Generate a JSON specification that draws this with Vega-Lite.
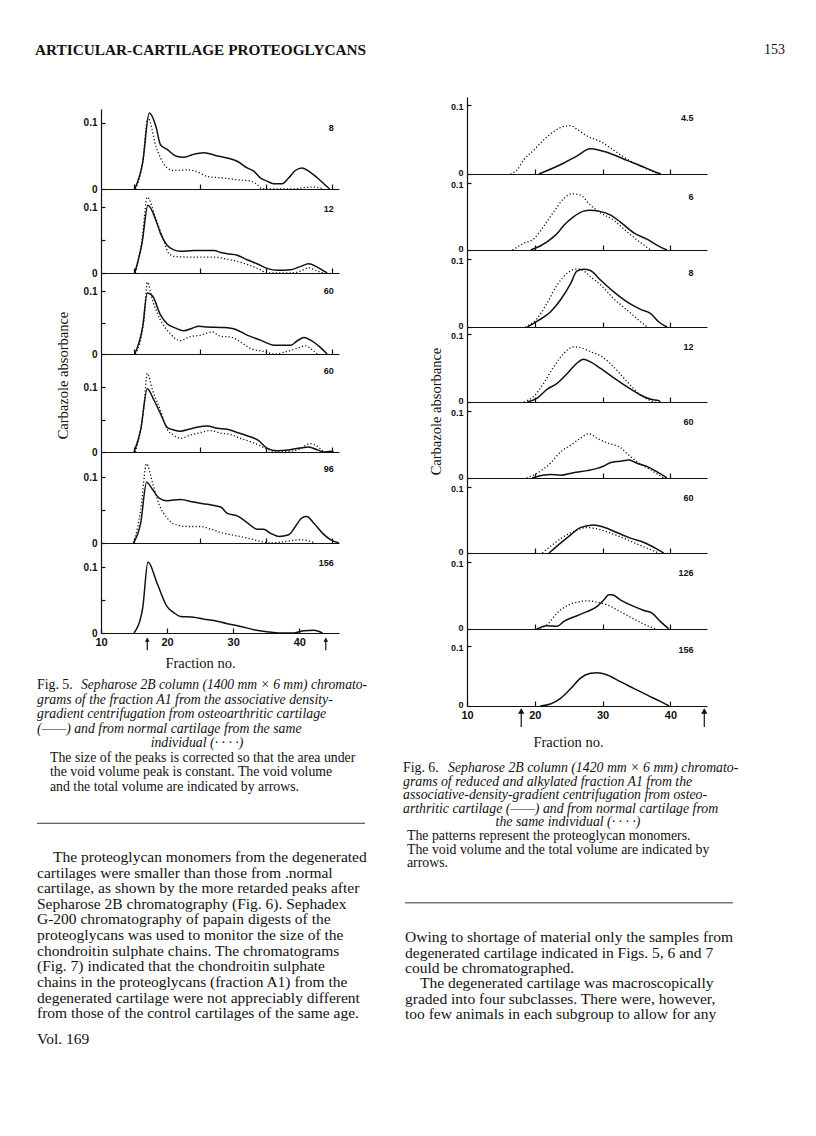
{
  "$schema": "https://vega.github.io/schema/vega-lite/v6.json",
  "background": "white",
  "padding": {"left": 35, "top": 30, "right": 0, "bottom": 0},
  "autosize": {"type": "pad"},
  "config": {
    "view": {"stroke": null},
    "font": "Liberation Serif",
    "axis": {"grid": false, "domainColor": "#111", "tickColor": "#111", "labelColor": "#111", "labelFont": "Liberation Sans", "labelFontWeight": "bold", "labelFontSize": 10, "domainWidth": 1.2, "tickWidth": 1.2, "labelOverlap": false, "labelFlush": false, "labelBound": false, "titleFont": "Liberation Serif", "titleFontWeight": "normal", "titleFontSize": 14.5, "titleColor": "#111"},
    "text": {"font": "Liberation Serif", "color": "#111"},
    "concat": {"spacing": 0}
  },
  "datasets": {
    "curves": [
      {"fig":5,"panel":1,"series":"OA","fraction":15.1,"absorbance":0},{"fig":5,"panel":1,"series":"OA","fraction":16.3,"absorbance":0.04},{"fig":5,"panel":1,"series":"OA","fraction":17.3,"absorbance":0.115},{"fig":5,"panel":1,"series":"OA","fraction":18.3,"absorbance":0.095},{"fig":5,"panel":1,"series":"OA","fraction":19,"absorbance":0.067},{"fig":5,"panel":1,"series":"OA","fraction":20,"absorbance":0.06},{"fig":5,"panel":1,"series":"OA","fraction":21.3,"absorbance":0.05},{"fig":5,"panel":1,"series":"OA","fraction":22.5,"absorbance":0.048},{"fig":5,"panel":1,"series":"OA","fraction":23.8,"absorbance":0.052},{"fig":5,"panel":1,"series":"OA","fraction":25.6,"absorbance":0.055},{"fig":5,"panel":1,"series":"OA","fraction":27.6,"absorbance":0.05},{"fig":5,"panel":1,"series":"OA","fraction":29.1,"absorbance":0.047},{"fig":5,"panel":1,"series":"OA","fraction":30.6,"absorbance":0.042},{"fig":5,"panel":1,"series":"OA","fraction":32.1,"absorbance":0.032},{"fig":5,"panel":1,"series":"OA","fraction":33.1,"absorbance":0.027},{"fig":5,"panel":1,"series":"OA","fraction":34.1,"absorbance":0.017},{"fig":5,"panel":1,"series":"OA","fraction":35.1,"absorbance":0.012},{"fig":5,"panel":1,"series":"OA","fraction":36.1,"absorbance":0.008},{"fig":5,"panel":1,"series":"OA","fraction":37.4,"absorbance":0.008},{"fig":5,"panel":1,"series":"OA","fraction":38.4,"absorbance":0.017},{"fig":5,"panel":1,"series":"OA","fraction":39.4,"absorbance":0.028},{"fig":5,"panel":1,"series":"OA","fraction":40.4,"absorbance":0.032},{"fig":5,"panel":1,"series":"OA","fraction":41.4,"absorbance":0.027},{"fig":5,"panel":1,"series":"OA","fraction":42.7,"absorbance":0.017},{"fig":5,"panel":1,"series":"OA","fraction":43.7,"absorbance":0.008},{"fig":5,"panel":1,"series":"OA","fraction":44.6,"absorbance":0},
      {"fig":5,"panel":1,"series":"normal","fraction":15.2,"absorbance":0},{"fig":5,"panel":1,"series":"normal","fraction":16.3,"absorbance":0.04},{"fig":5,"panel":1,"series":"normal","fraction":17.1,"absorbance":0.108},{"fig":5,"panel":1,"series":"normal","fraction":18.3,"absorbance":0.065},{"fig":5,"panel":1,"series":"normal","fraction":19,"absorbance":0.047},{"fig":5,"panel":1,"series":"normal","fraction":20,"absorbance":0.032},{"fig":5,"panel":1,"series":"normal","fraction":21,"absorbance":0.028},{"fig":5,"panel":1,"series":"normal","fraction":23,"absorbance":0.029},{"fig":5,"panel":1,"series":"normal","fraction":24.3,"absorbance":0.027},{"fig":5,"panel":1,"series":"normal","fraction":26.1,"absorbance":0.019},{"fig":5,"panel":1,"series":"normal","fraction":28.1,"absorbance":0.017},{"fig":5,"panel":1,"series":"normal","fraction":30.6,"absorbance":0.014},{"fig":5,"panel":1,"series":"normal","fraction":32.6,"absorbance":0.012},{"fig":5,"panel":1,"series":"normal","fraction":33.6,"absorbance":0.007},{"fig":5,"panel":1,"series":"normal","fraction":34.4,"absorbance":0},{"fig":5,"panel":1,"series":"normal","fraction":39.2,"absorbance":0},{"fig":5,"panel":1,"series":"normal","fraction":40.7,"absorbance":0.002},{"fig":5,"panel":1,"series":"normal","fraction":42.2,"absorbance":0.003},{"fig":5,"panel":1,"series":"normal","fraction":43.7,"absorbance":0},
      {"fig":5,"panel":2,"series":"OA","fraction":15.1,"absorbance":0},{"fig":5,"panel":2,"series":"OA","fraction":16.2,"absorbance":0.045},{"fig":5,"panel":2,"series":"OA","fraction":17.1,"absorbance":0.1025},{"fig":5,"panel":2,"series":"OA","fraction":18.3,"absorbance":0.08},{"fig":5,"panel":2,"series":"OA","fraction":19,"absorbance":0.06},{"fig":5,"panel":2,"series":"OA","fraction":20,"absorbance":0.042},{"fig":5,"panel":2,"series":"OA","fraction":21,"absorbance":0.035},{"fig":5,"panel":2,"series":"OA","fraction":22,"absorbance":0.033},{"fig":5,"panel":2,"series":"OA","fraction":24,"absorbance":0.034},{"fig":5,"panel":2,"series":"OA","fraction":27.1,"absorbance":0.034},{"fig":5,"panel":2,"series":"OA","fraction":28.1,"absorbance":0.031},{"fig":5,"panel":2,"series":"OA","fraction":29.1,"absorbance":0.029},{"fig":5,"panel":2,"series":"OA","fraction":30.6,"absorbance":0.027},{"fig":5,"panel":2,"series":"OA","fraction":32.1,"absorbance":0.02},{"fig":5,"panel":2,"series":"OA","fraction":33.6,"absorbance":0.014},{"fig":5,"panel":2,"series":"OA","fraction":35.1,"absorbance":0.007},{"fig":5,"panel":2,"series":"OA","fraction":36.7,"absorbance":0.004},{"fig":5,"panel":2,"series":"OA","fraction":38.7,"absorbance":0.005},{"fig":5,"panel":2,"series":"OA","fraction":40.2,"absorbance":0.01},{"fig":5,"panel":2,"series":"OA","fraction":41.4,"absorbance":0.014},{"fig":5,"panel":2,"series":"OA","fraction":42.7,"absorbance":0.009},{"fig":5,"panel":2,"series":"OA","fraction":44.2,"absorbance":0},
      {"fig":5,"panel":2,"series":"normal","fraction":15.2,"absorbance":0},{"fig":5,"panel":2,"series":"normal","fraction":16.2,"absorbance":0.05},{"fig":5,"panel":2,"series":"normal","fraction":17,"absorbance":0.115},{"fig":5,"panel":2,"series":"normal","fraction":18.3,"absorbance":0.082},{"fig":5,"panel":2,"series":"normal","fraction":19.3,"absorbance":0.055},{"fig":5,"panel":2,"series":"normal","fraction":20.3,"absorbance":0.029},{"fig":5,"panel":2,"series":"normal","fraction":21.3,"absorbance":0.025},{"fig":5,"panel":2,"series":"normal","fraction":24,"absorbance":0.024},{"fig":5,"panel":2,"series":"normal","fraction":27.1,"absorbance":0.024},{"fig":5,"panel":2,"series":"normal","fraction":29.1,"absorbance":0.021},{"fig":5,"panel":2,"series":"normal","fraction":30.1,"absorbance":0.019},{"fig":5,"panel":2,"series":"normal","fraction":32.1,"absorbance":0.013},{"fig":5,"panel":2,"series":"normal","fraction":34.1,"absorbance":0.005},{"fig":5,"panel":2,"series":"normal","fraction":35.1,"absorbance":0},{"fig":5,"panel":2,"series":"normal","fraction":38.7,"absorbance":0},{"fig":5,"panel":2,"series":"normal","fraction":40.2,"absorbance":0.003},{"fig":5,"panel":2,"series":"normal","fraction":41.4,"absorbance":0.008},{"fig":5,"panel":2,"series":"normal","fraction":42.7,"absorbance":0.003},{"fig":5,"panel":2,"series":"normal","fraction":43.7,"absorbance":0},
      {"fig":5,"panel":3,"series":"OA","fraction":15.1,"absorbance":0},{"fig":5,"panel":3,"series":"OA","fraction":16.3,"absorbance":0.043},{"fig":5,"panel":3,"series":"OA","fraction":17,"absorbance":0.097},{"fig":5,"panel":3,"series":"OA","fraction":17.8,"absorbance":0.092},{"fig":5,"panel":3,"series":"OA","fraction":19,"absorbance":0.062},{"fig":5,"panel":3,"series":"OA","fraction":20,"absorbance":0.048},{"fig":5,"panel":3,"series":"OA","fraction":21.3,"absorbance":0.041},{"fig":5,"panel":3,"series":"OA","fraction":22.5,"absorbance":0.037},{"fig":5,"panel":3,"series":"OA","fraction":23.8,"absorbance":0.041},{"fig":5,"panel":3,"series":"OA","fraction":24.8,"absorbance":0.044},{"fig":5,"panel":3,"series":"OA","fraction":26.1,"absorbance":0.043},{"fig":5,"panel":3,"series":"OA","fraction":28.6,"absorbance":0.042},{"fig":5,"panel":3,"series":"OA","fraction":30.4,"absorbance":0.039},{"fig":5,"panel":3,"series":"OA","fraction":32.1,"absorbance":0.03},{"fig":5,"panel":3,"series":"OA","fraction":34.1,"absorbance":0.022},{"fig":5,"panel":3,"series":"OA","fraction":36.2,"absorbance":0.014},{"fig":5,"panel":3,"series":"OA","fraction":38.7,"absorbance":0.014},{"fig":5,"panel":3,"series":"OA","fraction":39.7,"absorbance":0.021},{"fig":5,"panel":3,"series":"OA","fraction":40.7,"absorbance":0.026},{"fig":5,"panel":3,"series":"OA","fraction":41.7,"absorbance":0.022},{"fig":5,"panel":3,"series":"OA","fraction":43,"absorbance":0.012},{"fig":5,"panel":3,"series":"OA","fraction":44.2,"absorbance":0},
      {"fig":5,"panel":3,"series":"normal","fraction":15.2,"absorbance":0},{"fig":5,"panel":3,"series":"normal","fraction":16.5,"absorbance":0.054},{"fig":5,"panel":3,"series":"normal","fraction":17,"absorbance":0.114},{"fig":5,"panel":3,"series":"normal","fraction":17.8,"absorbance":0.085},{"fig":5,"panel":3,"series":"normal","fraction":19,"absorbance":0.054},{"fig":5,"panel":3,"series":"normal","fraction":20.5,"absorbance":0.032},{"fig":5,"panel":3,"series":"normal","fraction":22,"absorbance":0.021},{"fig":5,"panel":3,"series":"normal","fraction":23.3,"absorbance":0.027},{"fig":5,"panel":3,"series":"normal","fraction":25.1,"absorbance":0.03},{"fig":5,"panel":3,"series":"normal","fraction":26.8,"absorbance":0.035},{"fig":5,"panel":3,"series":"normal","fraction":28.1,"absorbance":0.028},{"fig":5,"panel":3,"series":"normal","fraction":29.6,"absorbance":0.027},{"fig":5,"panel":3,"series":"normal","fraction":31.1,"absorbance":0.019},{"fig":5,"panel":3,"series":"normal","fraction":32.6,"absorbance":0.009},{"fig":5,"panel":3,"series":"normal","fraction":34.6,"absorbance":0.004},{"fig":5,"panel":3,"series":"normal","fraction":36.3,"absorbance":0},{"fig":5,"panel":3,"series":"normal","fraction":38.1,"absorbance":0.004},{"fig":5,"panel":3,"series":"normal","fraction":39.7,"absorbance":0.009},{"fig":5,"panel":3,"series":"normal","fraction":40.9,"absorbance":0.013},{"fig":5,"panel":3,"series":"normal","fraction":41.9,"absorbance":0.007},{"fig":5,"panel":3,"series":"normal","fraction":42.7,"absorbance":0},
      {"fig":5,"panel":4,"series":"OA","fraction":15,"absorbance":0},{"fig":5,"panel":4,"series":"OA","fraction":16,"absorbance":0.034},{"fig":5,"panel":4,"series":"OA","fraction":17,"absorbance":0.0975},{"fig":5,"panel":4,"series":"OA","fraction":18,"absorbance":0.08},{"fig":5,"panel":4,"series":"OA","fraction":19,"absorbance":0.059},{"fig":5,"panel":4,"series":"OA","fraction":20,"absorbance":0.038},{"fig":5,"panel":4,"series":"OA","fraction":21,"absorbance":0.034},{"fig":5,"panel":4,"series":"OA","fraction":22,"absorbance":0.032},{"fig":5,"panel":4,"series":"OA","fraction":23.3,"absorbance":0.035},{"fig":5,"panel":4,"series":"OA","fraction":24.5,"absorbance":0.038},{"fig":5,"panel":4,"series":"OA","fraction":26.1,"absorbance":0.04},{"fig":5,"panel":4,"series":"OA","fraction":27.6,"absorbance":0.0365},{"fig":5,"panel":4,"series":"OA","fraction":29.1,"absorbance":0.035},{"fig":5,"panel":4,"series":"OA","fraction":30.6,"absorbance":0.03},{"fig":5,"panel":4,"series":"OA","fraction":32.1,"absorbance":0.025},{"fig":5,"panel":4,"series":"OA","fraction":33.8,"absorbance":0.018},{"fig":5,"panel":4,"series":"OA","fraction":35.1,"absorbance":0.006},{"fig":5,"panel":4,"series":"OA","fraction":36.6,"absorbance":0.002},{"fig":5,"panel":4,"series":"OA","fraction":38.6,"absorbance":0.0035},{"fig":5,"panel":4,"series":"OA","fraction":40.1,"absorbance":0.006},{"fig":5,"panel":4,"series":"OA","fraction":41.4,"absorbance":0.0076},{"fig":5,"panel":4,"series":"OA","fraction":42.7,"absorbance":0.0035},{"fig":5,"panel":4,"series":"OA","fraction":43.7,"absorbance":0},{"fig":5,"panel":4,"series":"OA","fraction":44.7,"absorbance":0.001},{"fig":5,"panel":4,"series":"OA","fraction":45.2,"absorbance":0},
      {"fig":5,"panel":4,"series":"normal","fraction":15.2,"absorbance":0},{"fig":5,"panel":4,"series":"normal","fraction":16.5,"absorbance":0.07},{"fig":5,"panel":4,"series":"normal","fraction":17,"absorbance":0.121},{"fig":5,"panel":4,"series":"normal","fraction":17.8,"absorbance":0.095},{"fig":5,"panel":4,"series":"normal","fraction":19,"absorbance":0.064},{"fig":5,"panel":4,"series":"normal","fraction":20,"absorbance":0.035},{"fig":5,"panel":4,"series":"normal","fraction":21,"absorbance":0.026},{"fig":5,"panel":4,"series":"normal","fraction":22,"absorbance":0.021},{"fig":5,"panel":4,"series":"normal","fraction":23.5,"absorbance":0.026},{"fig":5,"panel":4,"series":"normal","fraction":25.1,"absorbance":0.03},{"fig":5,"panel":4,"series":"normal","fraction":26.6,"absorbance":0.033},{"fig":5,"panel":4,"series":"normal","fraction":28.1,"absorbance":0.029},{"fig":5,"panel":4,"series":"normal","fraction":29.6,"absorbance":0.027},{"fig":5,"panel":4,"series":"normal","fraction":31.1,"absorbance":0.021},{"fig":5,"panel":4,"series":"normal","fraction":33.1,"absorbance":0.014},{"fig":5,"panel":4,"series":"normal","fraction":35.1,"absorbance":0.0046},{"fig":5,"panel":4,"series":"normal","fraction":36.6,"absorbance":0},{"fig":5,"panel":4,"series":"normal","fraction":38.6,"absorbance":0.001},{"fig":5,"panel":4,"series":"normal","fraction":40.1,"absorbance":0.0046},{"fig":5,"panel":4,"series":"normal","fraction":41.6,"absorbance":0.013},{"fig":5,"panel":4,"series":"normal","fraction":42.7,"absorbance":0.009},{"fig":5,"panel":4,"series":"normal","fraction":43.7,"absorbance":0},
      {"fig":5,"panel":5,"series":"OA","fraction":14.9,"absorbance":0},{"fig":5,"panel":5,"series":"OA","fraction":16,"absorbance":0.03},{"fig":5,"panel":5,"series":"OA","fraction":16.9,"absorbance":0.092},{"fig":5,"panel":5,"series":"OA","fraction":17.8,"absorbance":0.081},{"fig":5,"panel":5,"series":"OA","fraction":18.8,"absorbance":0.068},{"fig":5,"panel":5,"series":"OA","fraction":20,"absorbance":0.064},{"fig":5,"panel":5,"series":"OA","fraction":22,"absorbance":0.066},{"fig":5,"panel":5,"series":"OA","fraction":24,"absorbance":0.062},{"fig":5,"panel":5,"series":"OA","fraction":26.1,"absorbance":0.0586},{"fig":5,"panel":5,"series":"OA","fraction":28.1,"absorbance":0.0545},{"fig":5,"panel":5,"series":"OA","fraction":29.1,"absorbance":0.045},{"fig":5,"panel":5,"series":"OA","fraction":30.6,"absorbance":0.041},{"fig":5,"panel":5,"series":"OA","fraction":32.1,"absorbance":0.031},{"fig":5,"panel":5,"series":"OA","fraction":33.6,"absorbance":0.021},{"fig":5,"panel":5,"series":"OA","fraction":34.6,"absorbance":0.021},{"fig":5,"panel":5,"series":"OA","fraction":35.6,"absorbance":0.015},{"fig":5,"panel":5,"series":"OA","fraction":36.9,"absorbance":0.01},{"fig":5,"panel":5,"series":"OA","fraction":38.4,"absorbance":0.0126},{"fig":5,"panel":5,"series":"OA","fraction":39.4,"absorbance":0.025},{"fig":5,"panel":5,"series":"OA","fraction":40.4,"absorbance":0.038},{"fig":5,"panel":5,"series":"OA","fraction":41.1,"absorbance":0.04},{"fig":5,"panel":5,"series":"OA","fraction":42.2,"absorbance":0.03},{"fig":5,"panel":5,"series":"OA","fraction":43.5,"absorbance":0.015},{"fig":5,"panel":5,"series":"OA","fraction":44.7,"absorbance":0.005},{"fig":5,"panel":5,"series":"OA","fraction":46,"absorbance":0},
      {"fig":5,"panel":5,"series":"normal","fraction":15,"absorbance":0},{"fig":5,"panel":5,"series":"normal","fraction":16,"absorbance":0.05},{"fig":5,"panel":5,"series":"normal","fraction":16.9,"absorbance":0.12},{"fig":5,"panel":5,"series":"normal","fraction":17.8,"absorbance":0.091},{"fig":5,"panel":5,"series":"normal","fraction":18.8,"absorbance":0.058},{"fig":5,"panel":5,"series":"normal","fraction":20,"absorbance":0.038},{"fig":5,"panel":5,"series":"normal","fraction":21,"absorbance":0.029},{"fig":5,"panel":5,"series":"normal","fraction":23,"absorbance":0.025},{"fig":5,"panel":5,"series":"normal","fraction":25.1,"absorbance":0.025},{"fig":5,"panel":5,"series":"normal","fraction":26.6,"absorbance":0.021},{"fig":5,"panel":5,"series":"normal","fraction":28.1,"absorbance":0.016},{"fig":5,"panel":5,"series":"normal","fraction":30.1,"absorbance":0.0116},{"fig":5,"panel":5,"series":"normal","fraction":32.1,"absorbance":0.0076},{"fig":5,"panel":5,"series":"normal","fraction":34.1,"absorbance":0.0025},{"fig":5,"panel":5,"series":"normal","fraction":35.6,"absorbance":0},{"fig":5,"panel":5,"series":"normal","fraction":38.1,"absorbance":0.0025},{"fig":5,"panel":5,"series":"normal","fraction":40.1,"absorbance":0.005},{"fig":5,"panel":5,"series":"normal","fraction":41.1,"absorbance":0.004},{"fig":5,"panel":5,"series":"normal","fraction":42.4,"absorbance":0},
      {"fig":5,"panel":6,"series":"OA","fraction":15,"absorbance":0},{"fig":5,"panel":6,"series":"OA","fraction":16.3,"absorbance":0.0375},{"fig":5,"panel":6,"series":"OA","fraction":17.1,"absorbance":0.1075},{"fig":5,"panel":6,"series":"OA","fraction":18.5,"absorbance":0.075},{"fig":5,"panel":6,"series":"OA","fraction":20,"absorbance":0.04},{"fig":5,"panel":6,"series":"OA","fraction":21,"absorbance":0.031},{"fig":5,"panel":6,"series":"OA","fraction":22,"absorbance":0.025},{"fig":5,"panel":6,"series":"OA","fraction":24,"absorbance":0.024},{"fig":5,"panel":6,"series":"OA","fraction":25.6,"absorbance":0.021},{"fig":5,"panel":6,"series":"OA","fraction":27.1,"absorbance":0.019},{"fig":5,"panel":6,"series":"OA","fraction":29.1,"absorbance":0.014},{"fig":5,"panel":6,"series":"OA","fraction":31.1,"absorbance":0.01},{"fig":5,"panel":6,"series":"OA","fraction":33.1,"absorbance":0.005},{"fig":5,"panel":6,"series":"OA","fraction":35.1,"absorbance":0.002},{"fig":5,"panel":6,"series":"OA","fraction":37.2,"absorbance":0},{"fig":5,"panel":6,"series":"OA","fraction":39.2,"absorbance":0},{"fig":5,"panel":6,"series":"OA","fraction":40.7,"absorbance":0.0035},{"fig":5,"panel":6,"series":"OA","fraction":42.2,"absorbance":0.004},{"fig":5,"panel":6,"series":"OA","fraction":43.5,"absorbance":0},
      {"fig":6,"panel":1,"series":"OA","fraction":20.6,"absorbance":0},{"fig":6,"panel":1,"series":"OA","fraction":24.3,"absorbance":0.016},{"fig":6,"panel":1,"series":"OA","fraction":26.2,"absorbance":0.026},{"fig":6,"panel":1,"series":"OA","fraction":28.2,"absorbance":0.0365},{"fig":6,"panel":1,"series":"OA","fraction":29.7,"absorbance":0.034},{"fig":6,"panel":1,"series":"OA","fraction":31.6,"absorbance":0.028},{"fig":6,"panel":1,"series":"OA","fraction":33.6,"absorbance":0.0197},{"fig":6,"panel":1,"series":"OA","fraction":35.6,"absorbance":0.012},{"fig":6,"panel":1,"series":"OA","fraction":37.5,"absorbance":0.004},{"fig":6,"panel":1,"series":"OA","fraction":38.6,"absorbance":0},
      {"fig":6,"panel":1,"series":"normal","fraction":16.4,"absorbance":0},{"fig":6,"panel":1,"series":"normal","fraction":17.4,"absorbance":0.006},{"fig":6,"panel":1,"series":"normal","fraction":18.4,"absorbance":0.021},{"fig":6,"panel":1,"series":"normal","fraction":19.9,"absorbance":0.035},{"fig":6,"panel":1,"series":"normal","fraction":21.3,"absorbance":0.0495},{"fig":6,"panel":1,"series":"normal","fraction":22.8,"absorbance":0.0615},{"fig":6,"panel":1,"series":"normal","fraction":24.3,"absorbance":0.069},{"fig":6,"panel":1,"series":"normal","fraction":25.3,"absorbance":0.07},{"fig":6,"panel":1,"series":"normal","fraction":26.2,"absorbance":0.065},{"fig":6,"panel":1,"series":"normal","fraction":27.7,"absorbance":0.055},{"fig":6,"panel":1,"series":"normal","fraction":29.7,"absorbance":0.047},{"fig":6,"panel":1,"series":"normal","fraction":31.2,"absorbance":0.0375},{"fig":6,"panel":1,"series":"normal","fraction":32.6,"absorbance":0.028},{"fig":6,"panel":1,"series":"normal","fraction":34.6,"absorbance":0.016},{"fig":6,"panel":1,"series":"normal","fraction":36.6,"absorbance":0.007},{"fig":6,"panel":1,"series":"normal","fraction":38.3,"absorbance":0},
      {"fig":6,"panel":2,"series":"OA","fraction":19.4,"absorbance":0},{"fig":6,"panel":2,"series":"OA","fraction":20.8,"absorbance":0.006},{"fig":6,"panel":2,"series":"OA","fraction":22.8,"absorbance":0.02},{"fig":6,"panel":2,"series":"OA","fraction":23.5,"absorbance":0.027},{"fig":6,"panel":2,"series":"OA","fraction":24.3,"absorbance":0.037},{"fig":6,"panel":2,"series":"OA","fraction":25.7,"absorbance":0.0495},{"fig":6,"panel":2,"series":"OA","fraction":27.2,"absorbance":0.058},{"fig":6,"panel":2,"series":"OA","fraction":28.2,"absorbance":0.0594},{"fig":6,"panel":2,"series":"OA","fraction":29.4,"absorbance":0.058},{"fig":6,"panel":2,"series":"OA","fraction":31.2,"absorbance":0.052},{"fig":6,"panel":2,"series":"OA","fraction":32.6,"absorbance":0.042},{"fig":6,"panel":2,"series":"OA","fraction":34.6,"absorbance":0.0257},{"fig":6,"panel":2,"series":"OA","fraction":36.6,"absorbance":0.0158},{"fig":6,"panel":2,"series":"OA","fraction":38,"absorbance":0.0074},{"fig":6,"panel":2,"series":"OA","fraction":39.5,"absorbance":0},
      {"fig":6,"panel":2,"series":"normal","fraction":16.7,"absorbance":0},{"fig":6,"panel":2,"series":"normal","fraction":18.4,"absorbance":0.01},{"fig":6,"panel":2,"series":"normal","fraction":19.9,"absorbance":0.017},{"fig":6,"panel":2,"series":"normal","fraction":21.3,"absorbance":0.035},{"fig":6,"panel":2,"series":"normal","fraction":22.8,"absorbance":0.057},{"fig":6,"panel":2,"series":"normal","fraction":24.3,"absorbance":0.077},{"fig":6,"panel":2,"series":"normal","fraction":25.5,"absorbance":0.084},{"fig":6,"panel":2,"series":"normal","fraction":26.7,"absorbance":0.082},{"fig":6,"panel":2,"series":"normal","fraction":28.2,"absorbance":0.067},{"fig":6,"panel":2,"series":"normal","fraction":29.7,"absorbance":0.0554},{"fig":6,"panel":2,"series":"normal","fraction":31.6,"absorbance":0.0446},{"fig":6,"panel":2,"series":"normal","fraction":33.6,"absorbance":0.027},{"fig":6,"panel":2,"series":"normal","fraction":35.6,"absorbance":0.011},{"fig":6,"panel":2,"series":"normal","fraction":37.1,"absorbance":0},
      {"fig":6,"panel":3,"series":"OA","fraction":18.9,"absorbance":0},{"fig":6,"panel":3,"series":"OA","fraction":20.6,"absorbance":0.01},{"fig":6,"panel":3,"series":"OA","fraction":22.3,"absorbance":0.022},{"fig":6,"panel":3,"series":"OA","fraction":23.8,"absorbance":0.04},{"fig":6,"panel":3,"series":"OA","fraction":25.3,"absorbance":0.064},{"fig":6,"panel":3,"series":"OA","fraction":26.2,"absorbance":0.082},{"fig":6,"panel":3,"series":"OA","fraction":27.2,"absorbance":0.085},{"fig":6,"panel":3,"series":"OA","fraction":28.2,"absorbance":0.083},{"fig":6,"panel":3,"series":"OA","fraction":29.7,"absorbance":0.069},{"fig":6,"panel":3,"series":"OA","fraction":31.6,"absorbance":0.052},{"fig":6,"panel":3,"series":"OA","fraction":33.6,"absorbance":0.037},{"fig":6,"panel":3,"series":"OA","fraction":35.6,"absorbance":0.026},{"fig":6,"panel":3,"series":"OA","fraction":37.1,"absorbance":0.0198},{"fig":6,"panel":3,"series":"OA","fraction":38.3,"absorbance":0.0074},{"fig":6,"panel":3,"series":"OA","fraction":39.5,"absorbance":0},
      {"fig":6,"panel":3,"series":"normal","fraction":18.6,"absorbance":0},{"fig":6,"panel":3,"series":"normal","fraction":20.3,"absorbance":0.012},{"fig":6,"panel":3,"series":"normal","fraction":21.8,"absorbance":0.035},{"fig":6,"panel":3,"series":"normal","fraction":23.3,"absorbance":0.062},{"fig":6,"panel":3,"series":"normal","fraction":24.8,"absorbance":0.079},{"fig":6,"panel":3,"series":"normal","fraction":26,"absorbance":0.085},{"fig":6,"panel":3,"series":"normal","fraction":26.7,"absorbance":0.085},{"fig":6,"panel":3,"series":"normal","fraction":28.2,"absorbance":0.074},{"fig":6,"panel":3,"series":"normal","fraction":29.7,"absorbance":0.062},{"fig":6,"panel":3,"series":"normal","fraction":31.6,"absorbance":0.042},{"fig":6,"panel":3,"series":"normal","fraction":33.6,"absorbance":0.025},{"fig":6,"panel":3,"series":"normal","fraction":35.1,"absorbance":0.012},{"fig":6,"panel":3,"series":"normal","fraction":36.6,"absorbance":0},
      {"fig":6,"panel":4,"series":"OA","fraction":18.9,"absorbance":0},{"fig":6,"panel":4,"series":"OA","fraction":20.3,"absorbance":0.0054},{"fig":6,"panel":4,"series":"OA","fraction":21.8,"absorbance":0.0186},{"fig":6,"panel":4,"series":"OA","fraction":23.3,"absorbance":0.0275},{"fig":6,"panel":4,"series":"OA","fraction":24.8,"absorbance":0.042},{"fig":6,"panel":4,"series":"OA","fraction":26.2,"absorbance":0.057},{"fig":6,"panel":4,"series":"OA","fraction":27.2,"absorbance":0.063},{"fig":6,"panel":4,"series":"OA","fraction":28.2,"absorbance":0.059},{"fig":6,"panel":4,"series":"OA","fraction":29.7,"absorbance":0.0495},{"fig":6,"panel":4,"series":"OA","fraction":31.6,"absorbance":0.036},{"fig":6,"panel":4,"series":"OA","fraction":33.6,"absorbance":0.0225},{"fig":6,"panel":4,"series":"OA","fraction":35.6,"absorbance":0.0103},{"fig":6,"panel":4,"series":"OA","fraction":37.1,"absorbance":0.004},{"fig":6,"panel":4,"series":"OA","fraction":38.3,"absorbance":0.002},{"fig":6,"panel":4,"series":"OA","fraction":38.5,"absorbance":0},
      {"fig":6,"panel":4,"series":"normal","fraction":18.4,"absorbance":0},{"fig":6,"panel":4,"series":"normal","fraction":19.9,"absorbance":0.0088},{"fig":6,"panel":4,"series":"normal","fraction":21.3,"absorbance":0.0275},{"fig":6,"panel":4,"series":"normal","fraction":22.8,"absorbance":0.052},{"fig":6,"panel":4,"series":"normal","fraction":24.3,"absorbance":0.0716},{"fig":6,"panel":4,"series":"normal","fraction":25.7,"absorbance":0.081},{"fig":6,"panel":4,"series":"normal","fraction":26.7,"absorbance":0.08},{"fig":6,"panel":4,"series":"normal","fraction":28.2,"absorbance":0.074},{"fig":6,"panel":4,"series":"normal","fraction":29.9,"absorbance":0.0667},{"fig":6,"panel":4,"series":"normal","fraction":31.6,"absorbance":0.052},{"fig":6,"panel":4,"series":"normal","fraction":33.6,"absorbance":0.03},{"fig":6,"panel":4,"series":"normal","fraction":35.6,"absorbance":0.0103},{"fig":6,"panel":4,"series":"normal","fraction":37.1,"absorbance":0.002},{"fig":6,"panel":4,"series":"normal","fraction":37.8,"absorbance":0},
      {"fig":6,"panel":5,"series":"OA","fraction":19.6,"absorbance":0},{"fig":6,"panel":5,"series":"OA","fraction":21.3,"absorbance":0.0045},{"fig":6,"panel":5,"series":"OA","fraction":22.3,"absorbance":0.0054},{"fig":6,"panel":5,"series":"OA","fraction":23.8,"absorbance":0.004},{"fig":6,"panel":5,"series":"OA","fraction":25.7,"absorbance":0.008},{"fig":6,"panel":5,"series":"OA","fraction":27.7,"absorbance":0.011},{"fig":6,"panel":5,"series":"OA","fraction":29.2,"absorbance":0.0144},{"fig":6,"panel":5,"series":"OA","fraction":30.2,"absorbance":0.018},{"fig":6,"panel":5,"series":"OA","fraction":31.2,"absorbance":0.023},{"fig":6,"panel":5,"series":"OA","fraction":32.6,"absorbance":0.025},{"fig":6,"panel":5,"series":"OA","fraction":33.9,"absorbance":0.027},{"fig":6,"panel":5,"series":"OA","fraction":35.1,"absorbance":0.022},{"fig":6,"panel":5,"series":"OA","fraction":36.6,"absorbance":0.017},{"fig":6,"panel":5,"series":"OA","fraction":38,"absorbance":0.0094},{"fig":6,"panel":5,"series":"OA","fraction":39.5,"absorbance":0},
      {"fig":6,"panel":5,"series":"normal","fraction":18.8,"absorbance":0},{"fig":6,"panel":5,"series":"normal","fraction":20.3,"absorbance":0.007},{"fig":6,"panel":5,"series":"normal","fraction":22.3,"absorbance":0.022},{"fig":6,"panel":5,"series":"normal","fraction":23.8,"absorbance":0.039},{"fig":6,"panel":5,"series":"normal","fraction":25.3,"absorbance":0.049},{"fig":6,"panel":5,"series":"normal","fraction":26.7,"absorbance":0.059},{"fig":6,"panel":5,"series":"normal","fraction":28,"absorbance":0.066},{"fig":6,"panel":5,"series":"normal","fraction":29.2,"absorbance":0.059},{"fig":6,"panel":5,"series":"normal","fraction":30.7,"absorbance":0.0525},{"fig":6,"panel":5,"series":"normal","fraction":32.6,"absorbance":0.0455},{"fig":6,"panel":5,"series":"normal","fraction":33.6,"absorbance":0.0366},{"fig":6,"panel":5,"series":"normal","fraction":35.1,"absorbance":0.024},{"fig":6,"panel":5,"series":"normal","fraction":37.1,"absorbance":0.012},{"fig":6,"panel":5,"series":"normal","fraction":39,"absorbance":0},
      {"fig":6,"panel":6,"series":"OA","fraction":22.1,"absorbance":0},{"fig":6,"panel":6,"series":"OA","fraction":23.8,"absorbance":0.015},{"fig":6,"panel":6,"series":"OA","fraction":25.3,"absorbance":0.0275},{"fig":6,"panel":6,"series":"OA","fraction":26.7,"absorbance":0.0385},{"fig":6,"panel":6,"series":"OA","fraction":28.7,"absorbance":0.0425},{"fig":6,"panel":6,"series":"OA","fraction":30.2,"absorbance":0.039},{"fig":6,"panel":6,"series":"OA","fraction":32.1,"absorbance":0.031},{"fig":6,"panel":6,"series":"OA","fraction":34.1,"absorbance":0.0225},{"fig":6,"panel":6,"series":"OA","fraction":36.1,"absorbance":0.016},{"fig":6,"panel":6,"series":"OA","fraction":38,"absorbance":0.006},{"fig":6,"panel":6,"series":"OA","fraction":39,"absorbance":0},
      {"fig":6,"panel":6,"series":"normal","fraction":21.1,"absorbance":0},{"fig":6,"panel":6,"series":"normal","fraction":22.8,"absorbance":0.014},{"fig":6,"panel":6,"series":"normal","fraction":24.3,"absorbance":0.025},{"fig":6,"panel":6,"series":"normal","fraction":25.7,"absorbance":0.0325},{"fig":6,"panel":6,"series":"normal","fraction":27.7,"absorbance":0.0385},{"fig":6,"panel":6,"series":"normal","fraction":29.2,"absorbance":0.0365},{"fig":6,"panel":6,"series":"normal","fraction":31.2,"absorbance":0.03},{"fig":6,"panel":6,"series":"normal","fraction":33.1,"absorbance":0.0225},{"fig":6,"panel":6,"series":"normal","fraction":35.1,"absorbance":0.0135},{"fig":6,"panel":6,"series":"normal","fraction":37.1,"absorbance":0.005},{"fig":6,"panel":6,"series":"normal","fraction":38.3,"absorbance":0},
      {"fig":6,"panel":7,"series":"OA","fraction":20.3,"absorbance":0},{"fig":6,"panel":7,"series":"OA","fraction":21.8,"absorbance":0.005},{"fig":6,"panel":7,"series":"OA","fraction":23.3,"absorbance":0.004},{"fig":6,"panel":7,"series":"OA","fraction":24.3,"absorbance":0.0114},{"fig":6,"panel":7,"series":"OA","fraction":26.2,"absorbance":0.0198},{"fig":6,"panel":7,"series":"OA","fraction":27.7,"absorbance":0.026},{"fig":6,"panel":7,"series":"OA","fraction":29.2,"absorbance":0.0337},{"fig":6,"panel":7,"series":"OA","fraction":30.2,"absorbance":0.0436},{"fig":6,"panel":7,"series":"OA","fraction":30.9,"absorbance":0.051},{"fig":6,"panel":7,"series":"OA","fraction":31.4,"absorbance":0.051},{"fig":6,"panel":7,"series":"OA","fraction":32.6,"absorbance":0.0436},{"fig":6,"panel":7,"series":"OA","fraction":34.6,"absorbance":0.0337},{"fig":6,"panel":7,"series":"OA","fraction":36.1,"absorbance":0.0277},{"fig":6,"panel":7,"series":"OA","fraction":37.3,"absorbance":0.0238},{"fig":6,"panel":7,"series":"OA","fraction":38.5,"absorbance":0.0114},{"fig":6,"panel":7,"series":"OA","fraction":39.8,"absorbance":0},
      {"fig":6,"panel":7,"series":"normal","fraction":20.3,"absorbance":0},{"fig":6,"panel":7,"series":"normal","fraction":21.8,"absorbance":0.0064},{"fig":6,"panel":7,"series":"normal","fraction":23.3,"absorbance":0.0238},{"fig":6,"panel":7,"series":"normal","fraction":24.8,"absorbance":0.035},{"fig":6,"panel":7,"series":"normal","fraction":26.2,"absorbance":0.04},{"fig":6,"panel":7,"series":"normal","fraction":27.7,"absorbance":0.042},{"fig":6,"panel":7,"series":"normal","fraction":29.2,"absorbance":0.04},{"fig":6,"panel":7,"series":"normal","fraction":30.7,"absorbance":0.036},{"fig":6,"panel":7,"series":"normal","fraction":32.6,"absorbance":0.026},{"fig":6,"panel":7,"series":"normal","fraction":34.6,"absorbance":0.0149},{"fig":6,"panel":7,"series":"normal","fraction":36.6,"absorbance":0.005},{"fig":6,"panel":7,"series":"normal","fraction":37.8,"absorbance":0},
      {"fig":6,"panel":8,"series":"OA","fraction":20.8,"absorbance":0},{"fig":6,"panel":8,"series":"OA","fraction":22.3,"absorbance":0.0033},{"fig":6,"panel":8,"series":"OA","fraction":23.8,"absorbance":0.0128},{"fig":6,"panel":8,"series":"OA","fraction":25.3,"absorbance":0.029},{"fig":6,"panel":8,"series":"OA","fraction":26.7,"absorbance":0.046},{"fig":6,"panel":8,"series":"OA","fraction":28.2,"absorbance":0.0544},{"fig":6,"panel":8,"series":"OA","fraction":29.2,"absorbance":0.0556},{"fig":6,"panel":8,"series":"OA","fraction":30.7,"absorbance":0.0517},{"fig":6,"panel":8,"series":"OA","fraction":32.6,"absorbance":0.0406},{"fig":6,"panel":8,"series":"OA","fraction":34.6,"absorbance":0.0294},{"fig":6,"panel":8,"series":"OA","fraction":36.6,"absorbance":0.018},{"fig":6,"panel":8,"series":"OA","fraction":38.6,"absorbance":0.0072},{"fig":6,"panel":8,"series":"OA","fraction":39.8,"absorbance":0}
    ],
    "ages": [
      {"fig":5,"panel":1,"age":"8"},{"fig":5,"panel":2,"age":"12"},{"fig":5,"panel":3,"age":"60"},{"fig":5,"panel":4,"age":"60"},{"fig":5,"panel":5,"age":"96"},{"fig":5,"panel":6,"age":"156"},
      {"fig":6,"panel":1,"age":"4.5"},{"fig":6,"panel":2,"age":"6"},{"fig":6,"panel":3,"age":"8"},{"fig":6,"panel":4,"age":"12"},{"fig":6,"panel":5,"age":"60"},{"fig":6,"panel":6,"age":"60"},{"fig":6,"panel":7,"age":"126"},{"fig":6,"panel":8,"age":"156"}
    ],
    "arrows": [
      {"fig":5,"volume":"void","fraction":17},{"fig":5,"volume":"total","fraction":44},
      {"fig":6,"volume":"void","fraction":18},{"fig":6,"volume":"total","fraction":45}
    ],
    "caption5": [
      {"line":1,"part":"label","text":"Fig. 5."},
      {"line":1,"part":"title","text":"Sepharose 2B column (1400 mm × 6 mm) chromato-"},
      {"line":2,"part":"title","text":"grams of the fraction A1 from the associative density-"},
      {"line":3,"part":"title","text":"gradient centrifugation from osteoarthritic cartilage"},
      {"line":4,"part":"title","text":"(——) and from normal cartilage from the same"},
      {"line":5,"part":"title","text":"individual (· · · ·)"},
      {"line":6,"part":"note","text":"The size of the peaks is corrected so that the area under"},
      {"line":7,"part":"note","text":"the void volume peak is constant. The void volume"},
      {"line":8,"part":"note","text":"and the total volume are indicated by arrows."}
    ],
    "caption6": [
      {"line":1,"part":"label","text":"Fig. 6."},
      {"line":1,"part":"title","text":"Sepharose 2B column (1420 mm × 6 mm) chromato-"},
      {"line":2,"part":"title","text":"grams of reduced and alkylated fraction A1 from the"},
      {"line":3,"part":"title","text":"associative-density-gradient centrifugation from osteo-"},
      {"line":4,"part":"title","text":"arthritic cartilage (——) and from normal cartilage from"},
      {"line":5,"part":"title","text":"the same individual (· · · ·)"},
      {"line":6,"part":"note","text":"The patterns represent the proteoglycan monomers."},
      {"line":7,"part":"note","text":"The void volume and the total volume are indicated by"},
      {"line":8,"part":"note","text":"arrows."}
    ],
    "body5": [
      {"line":1,"text":"The proteoglycan monomers from the degenerated"},
      {"line":2,"text":"cartilages were smaller than those from .normal"},
      {"line":3,"text":"cartilage, as shown by the more retarded peaks after"},
      {"line":4,"text":"Sepharose 2B chromatography (Fig. 6). Sephadex"},
      {"line":5,"text":"G-200 chromatography of papain digests of the"},
      {"line":6,"text":"proteoglycans was used to monitor the size of the"},
      {"line":7,"text":"chondroitin sulphate chains. The chromatograms"},
      {"line":8,"text":"(Fig. 7) indicated that the chondroitin sulphate"},
      {"line":9,"text":"chains in the proteoglycans (fraction A1) from the"},
      {"line":10,"text":"degenerated cartilage were not appreciably different"},
      {"line":11,"text":"from those of the control cartilages of the same age."}
    ],
    "body6": [
      {"line":1,"text":"Owing to shortage of material only the samples from"},
      {"line":2,"text":"degenerated cartilage indicated in Figs. 5, 6 and 7"},
      {"line":3,"text":"could be chromatographed."},
      {"line":4,"text":"The degenerated cartilage was macroscopically"},
      {"line":5,"text":"graded into four subclasses. There were, however,"},
      {"line":6,"text":"too few animals in each subgroup to allow for any"}
    ]
  },
  "spacing": 366,
  "bounds": "flush",
  "hconcat": [
    {
      "spacing": 0,
      "bounds": "flush",
      "vconcat": [
        {"width": 238, "height": 79, "data": {"values": [{"text": "ARTICULAR-CARTILAGE PROTEOGLYCANS"}]}, "mark": {"type": "text", "align": "left", "baseline": "middle", "fontSize": 15.3, "fontWeight": "bold"}, "encoding": {"x": {"value": -66}, "y": {"value": 20}, "text": {"field": "text"}}},
        {"width": 238, "height": 80, "data": {"name": "curves"}, "layer": [
          {"transform": [{"filter": "datum.fig == 5 && datum.panel == 1 && datum.series == 'OA'"}], "mark": {"type": "line", "interpolate": "monotone", "strokeWidth": 1.5, "color": "#111"}, "encoding": {"x": {"field": "fraction", "type": "quantitative", "scale": {"domain": [10, 46], "nice": false, "zero": false}, "axis": {"values": [15, 20, 25, 30, 35, 40, 45], "labels": false, "tickSize": -5, "title": null}}, "y": {"field": "absorbance", "type": "quantitative", "scale": {"domain": [0, 0.1212], "nice": false}, "axis": {"values": [0, 0.05, 0.1], "tickSize": -4, "labelPadding": 8, "labelExpr": "datum.value == 0 ? '0' : (datum.value > 0.09 ? '0.1' : '')", "title": null}}}},
          {"transform": [{"filter": "datum.fig == 5 && datum.panel == 1 && datum.series == 'normal'"}], "mark": {"type": "line", "interpolate": "monotone", "strokeWidth": 1.3, "strokeDash": [1.2, 2.2], "color": "#111"}, "encoding": {"x": {"field": "fraction", "type": "quantitative"}, "y": {"field": "absorbance", "type": "quantitative"}}},
          {"data": {"name": "ages"}, "transform": [{"filter": "datum.fig == 5 && datum.panel == 1"}], "mark": {"type": "text", "align": "right", "baseline": "middle", "font": "Liberation Sans", "fontWeight": "bold", "fontSize": 9}, "encoding": {"text": {"field": "age"}, "x": {"datum": 45.2}, "y": {"datum": 0.0924}}}
        ]},
        {"width": 238, "height": 84, "data": {"name": "curves"}, "layer": [
          {"transform": [{"filter": "datum.fig == 5 && datum.panel == 2 && datum.series == 'OA'"}], "mark": {"type": "line", "interpolate": "monotone", "strokeWidth": 1.5, "color": "#111"}, "encoding": {"x": {"field": "fraction", "type": "quantitative", "scale": {"domain": [10, 46], "nice": false, "zero": false}, "axis": {"values": [15, 20, 25, 30, 35, 40, 45], "labels": false, "tickSize": -5, "title": null}}, "y": {"field": "absorbance", "type": "quantitative", "scale": {"domain": [0, 0.1273], "nice": false}, "axis": {"values": [0, 0.05, 0.1], "tickSize": -4, "labelPadding": 8, "labelExpr": "datum.value == 0 ? '0' : (datum.value > 0.09 ? '0.1' : '')", "title": null}}}},
          {"transform": [{"filter": "datum.fig == 5 && datum.panel == 2 && datum.series == 'normal'"}], "mark": {"type": "line", "interpolate": "monotone", "strokeWidth": 1.3, "strokeDash": [1.2, 2.2], "color": "#111"}, "encoding": {"x": {"field": "fraction", "type": "quantitative"}, "y": {"field": "absorbance", "type": "quantitative"}}},
          {"data": {"name": "ages"}, "transform": [{"filter": "datum.fig == 5 && datum.panel == 2"}], "mark": {"type": "text", "align": "right", "baseline": "middle", "font": "Liberation Sans", "fontWeight": "bold", "fontSize": 9}, "encoding": {"text": {"field": "age"}, "x": {"datum": 45.2}, "y": {"datum": 0.097}}}
        ]},
        {"width": 238, "height": 81, "data": {"name": "curves"}, "layer": [
          {"transform": [{"filter": "datum.fig == 5 && datum.panel == 3 && datum.series == 'OA'"}], "mark": {"type": "line", "interpolate": "monotone", "strokeWidth": 1.5, "color": "#111"}, "encoding": {"x": {"field": "fraction", "type": "quantitative", "scale": {"domain": [10, 46], "nice": false, "zero": false}, "axis": {"values": [15, 20, 25, 30, 35, 40, 45], "labels": false, "tickSize": -5, "title": null}}, "y": {"field": "absorbance", "type": "quantitative", "scale": {"domain": [0, 0.1286], "nice": false}, "axis": {"values": [0, 0.05, 0.1], "tickSize": -4, "labelPadding": 8, "labelExpr": "datum.value == 0 ? '0' : (datum.value > 0.09 ? '0.1' : '')", "title": null}}}},
          {"transform": [{"filter": "datum.fig == 5 && datum.panel == 3 && datum.series == 'normal'"}], "mark": {"type": "line", "interpolate": "monotone", "strokeWidth": 1.3, "strokeDash": [1.2, 2.2], "color": "#111"}, "encoding": {"x": {"field": "fraction", "type": "quantitative"}, "y": {"field": "absorbance", "type": "quantitative"}}},
          {"data": {"name": "ages"}, "transform": [{"filter": "datum.fig == 5 && datum.panel == 3"}], "mark": {"type": "text", "align": "right", "baseline": "middle", "font": "Liberation Sans", "fontWeight": "bold", "fontSize": 9}, "encoding": {"text": {"field": "age"}, "x": {"datum": 45.2}, "y": {"datum": 0.1}}}
        ]},
        {"width": 238, "height": 98, "data": {"name": "curves"}, "layer": [
          {"transform": [{"filter": "datum.fig == 5 && datum.panel == 4 && datum.series == 'OA'"}], "mark": {"type": "line", "interpolate": "monotone", "strokeWidth": 1.5, "color": "#111"}, "encoding": {"x": {"field": "fraction", "type": "quantitative", "scale": {"domain": [10, 46], "nice": false, "zero": false}, "axis": {"values": [15, 20, 25, 30, 35, 40, 45], "labels": false, "tickSize": -5, "title": null}}, "y": {"field": "absorbance", "type": "quantitative", "scale": {"domain": [0, 0.1508], "nice": false}, "axis": {"values": [0, 0.05, 0.1], "tickSize": -4, "labelPadding": 8, "labelExpr": "datum.value == 0 ? '0' : (datum.value > 0.09 ? '0.1' : '')", "title": "Carbazole absorbance", "titleX": -38, "titleY": 21, "titleAngle": -90, "titleAlign": "center", "titleBaseline": "middle"}}}},
          {"transform": [{"filter": "datum.fig == 5 && datum.panel == 4 && datum.series == 'normal'"}], "mark": {"type": "line", "interpolate": "monotone", "strokeWidth": 1.3, "strokeDash": [1.2, 2.2], "color": "#111"}, "encoding": {"x": {"field": "fraction", "type": "quantitative"}, "y": {"field": "absorbance", "type": "quantitative"}}},
          {"data": {"name": "ages"}, "transform": [{"filter": "datum.fig == 5 && datum.panel == 4"}], "mark": {"type": "text", "align": "right", "baseline": "middle", "font": "Liberation Sans", "fontWeight": "bold", "fontSize": 9}, "encoding": {"text": {"field": "age"}, "x": {"datum": 45.2}, "y": {"datum": 0.1246}}}
        ]},
        {"width": 238, "height": 91, "data": {"name": "curves"}, "layer": [
          {"transform": [{"filter": "datum.fig == 5 && datum.panel == 5 && datum.series == 'OA'"}], "mark": {"type": "line", "interpolate": "monotone", "strokeWidth": 1.5, "color": "#111"}, "encoding": {"x": {"field": "fraction", "type": "quantitative", "scale": {"domain": [10, 46], "nice": false, "zero": false}, "axis": {"values": [15, 20, 25, 30, 35, 40, 45], "labels": false, "tickSize": -5, "title": null}}, "y": {"field": "absorbance", "type": "quantitative", "scale": {"domain": [0, 0.1379], "nice": false}, "axis": {"values": [0, 0.05, 0.1], "tickSize": -4, "labelPadding": 8, "labelExpr": "datum.value == 0 ? '0' : (datum.value > 0.09 ? '0.1' : '')", "title": null}}}},
          {"transform": [{"filter": "datum.fig == 5 && datum.panel == 5 && datum.series == 'normal'"}], "mark": {"type": "line", "interpolate": "monotone", "strokeWidth": 1.3, "strokeDash": [1.2, 2.2], "color": "#111"}, "encoding": {"x": {"field": "fraction", "type": "quantitative"}, "y": {"field": "absorbance", "type": "quantitative"}}},
          {"data": {"name": "ages"}, "transform": [{"filter": "datum.fig == 5 && datum.panel == 5"}], "mark": {"type": "text", "align": "right", "baseline": "middle", "font": "Liberation Sans", "fontWeight": "bold", "fontSize": 9}, "encoding": {"text": {"field": "age"}, "x": {"datum": 45.2}, "y": {"datum": 0.112}}}
        ]},
        {"width": 238, "height": 90, "data": {"name": "curves"}, "layer": [
          {"transform": [{"filter": "datum.fig == 5 && datum.panel == 6 && datum.series == 'OA'"}], "mark": {"type": "line", "interpolate": "monotone", "strokeWidth": 1.5, "color": "#111"}, "encoding": {"x": {"field": "fraction", "type": "quantitative", "scale": {"domain": [10, 46], "nice": false, "zero": false}, "axis": {"values": [10, 15, 20, 25, 30, 35, 40, 45], "tickSize": -5, "labelPadding": 8, "labelFontSize": 11, "labelExpr": "datum.value % 10 == 0 ? datum.label : ''", "title": "Fraction no.", "titleX": 99, "titleY": 30, "titleAlign": "center", "titleBaseline": "middle"}}, "y": {"field": "absorbance", "type": "quantitative", "scale": {"domain": [0, 0.1364], "nice": false}, "axis": {"values": [0, 0.05, 0.1], "tickSize": -4, "labelPadding": 8, "labelExpr": "datum.value == 0 ? '0' : (datum.value > 0.09 ? '0.1' : '')", "title": null}}}},
          {"data": {"name": "ages"}, "transform": [{"filter": "datum.fig == 5 && datum.panel == 6"}], "mark": {"type": "text", "align": "right", "baseline": "middle", "font": "Liberation Sans", "fontWeight": "bold", "fontSize": 9}, "encoding": {"text": {"field": "age"}, "x": {"datum": 45.2}, "y": {"datum": 0.106}}},
          {"data": {"name": "arrows"}, "transform": [{"filter": "datum.fig == 5"}], "mark": {"type": "rule", "strokeWidth": 1.2, "color": "#111"}, "encoding": {"x": {"field": "fraction", "type": "quantitative"}, "y": {"datum": -0.008}, "y2": {"datum": -0.026}}},
          {"data": {"name": "arrows"}, "transform": [{"filter": "datum.fig == 5"}], "mark": {"type": "point", "shape": "triangle-up", "filled": true, "size": 22, "color": "#111", "opacity": 1}, "encoding": {"x": {"field": "fraction", "type": "quantitative"}, "y": {"datum": -0.0102}}}
        ]},
        {"width": 238, "height": 177, "data": {"name": "caption5"},
          "encoding": {"y": {"field": "line", "type": "quantitative", "scale": {"domain": [-2.569, 9.579], "reverse": true}, "axis": null}, "text": {"field": "text"}},
          "layer": [
            {"transform": [{"filter": "datum.part == 'label'"}], "mark": {"type": "text", "align": "left", "baseline": "middle", "fontSize": 13.8}, "encoding": {"x": {"value": -64}}},
            {"transform": [{"filter": "datum.part == 'title' && datum.line == 1"}], "mark": {"type": "text", "align": "left", "baseline": "middle", "fontSize": 13.6, "fontStyle": "italic"}, "encoding": {"x": {"value": -20}}},
            {"transform": [{"filter": "datum.part == 'title' && datum.line > 1 && datum.line < 5"}], "mark": {"type": "text", "align": "left", "baseline": "middle", "fontSize": 13.8, "fontStyle": "italic"}, "encoding": {"x": {"value": -64}}},
            {"transform": [{"filter": "datum.part == 'title' && datum.line == 5"}], "mark": {"type": "text", "align": "center", "baseline": "middle", "fontSize": 13.8, "fontStyle": "italic"}, "encoding": {"x": {"value": 96}}},
            {"transform": [{"filter": "datum.part == 'note'"}], "mark": {"type": "text", "align": "left", "baseline": "middle", "fontSize": 13.8}, "encoding": {"x": {"value": -51}}}
          ]
        },
        {"width": 238, "height": 250,
          "layer": [
            {"data": {"name": "body5"}, "transform": [{"filter": "datum.line == 1"}], "mark": {"type": "text", "align": "left", "baseline": "middle", "fontSize": 15.5}, "encoding": {"x": {"value": -48}, "y": {"field": "line", "type": "quantitative", "scale": {"domain": [-1.911, 13.911], "reverse": true}, "axis": null}, "text": {"field": "text"}}},
            {"data": {"name": "body5"}, "transform": [{"filter": "datum.line > 1"}], "mark": {"type": "text", "align": "left", "baseline": "middle", "fontSize": 15.5}, "encoding": {"x": {"value": -64}, "y": {"field": "line", "type": "quantitative"}, "text": {"field": "text"}}},
            {"data": {"values": [{"text": "Vol. 169"}]}, "mark": {"type": "text", "align": "left", "baseline": "middle", "fontSize": 15.5}, "encoding": {"x": {"value": -64}, "y": {"datum": 12.65}, "text": {"field": "text"}}},
            {"data": {"values": [{"rule": "separator"}]}, "mark": {"type": "rule", "strokeWidth": 1, "color": "#333"}, "encoding": {"x": {"value": -64}, "x2": {"value": 264}, "y": {"datum": -1.152}}}
          ]
        }
      ]
    },
    {
      "spacing": 0,
      "bounds": "flush",
      "vconcat": [
        {"width": 240, "height": 67, "data": {"values": [{"text": "153"}]}, "mark": {"type": "text", "align": "right", "baseline": "middle", "fontSize": 14}, "encoding": {"x": {"value": 318}, "y": {"value": 20}, "text": {"field": "text"}}},
        {"width": 240, "height": 77, "data": {"name": "curves"}, "layer": [
          {"transform": [{"filter": "datum.fig == 6 && datum.panel == 1 && datum.series == 'OA'"}], "mark": {"type": "line", "interpolate": "monotone", "strokeWidth": 1.5, "color": "#111"}, "encoding": {"x": {"field": "fraction", "type": "quantitative", "scale": {"domain": [10, 45.4], "nice": false, "zero": false}, "axis": {"values": [20, 30, 40], "labels": false, "tickSize": -5, "title": null}}, "y": {"field": "absorbance", "type": "quantitative", "scale": {"domain": [0, 0.1116], "nice": false}, "axis": {"values": [0, 0.05, 0.1], "tickSize": -4, "labelPadding": 8, "labelFontSize": 9, "labelOffset": {"condition": {"test": "datum.value == 0", "value": -1.5}, "value": 1.5}, "labelExpr": "datum.value == 0 ? '0' : (datum.value > 0.09 ? '0.1' : '')", "title": null}}}},
          {"transform": [{"filter": "datum.fig == 6 && datum.panel == 1 && datum.series == 'normal'"}], "mark": {"type": "line", "interpolate": "monotone", "strokeWidth": 1.3, "strokeDash": [1.2, 2.2], "color": "#111"}, "encoding": {"x": {"field": "fraction", "type": "quantitative"}, "y": {"field": "absorbance", "type": "quantitative"}}},
          {"data": {"name": "ages"}, "transform": [{"filter": "datum.fig == 6 && datum.panel == 1"}], "mark": {"type": "text", "align": "right", "baseline": "middle", "font": "Liberation Sans", "fontWeight": "bold", "fontSize": 9}, "encoding": {"text": {"field": "age"}, "x": {"datum": 43.4}, "y": {"datum": 0.0812}}}
        ]},
        {"width": 240, "height": 76, "data": {"name": "curves"}, "layer": [
          {"transform": [{"filter": "datum.fig == 6 && datum.panel == 2 && datum.series == 'OA'"}], "mark": {"type": "line", "interpolate": "monotone", "strokeWidth": 1.5, "color": "#111"}, "encoding": {"x": {"field": "fraction", "type": "quantitative", "scale": {"domain": [10, 45.4], "nice": false, "zero": false}, "axis": {"values": [20, 30, 40], "labels": false, "tickSize": -5, "title": null}}, "y": {"field": "absorbance", "type": "quantitative", "scale": {"domain": [0, 0.1134], "nice": false}, "axis": {"values": [0, 0.05, 0.1], "tickSize": -4, "labelPadding": 8, "labelFontSize": 9, "labelOffset": {"condition": {"test": "datum.value == 0", "value": -1.5}, "value": 1.5}, "labelExpr": "datum.value == 0 ? '0' : (datum.value > 0.09 ? '0.1' : '')", "title": null}}}},
          {"transform": [{"filter": "datum.fig == 6 && datum.panel == 2 && datum.series == 'normal'"}], "mark": {"type": "line", "interpolate": "monotone", "strokeWidth": 1.3, "strokeDash": [1.2, 2.2], "color": "#111"}, "encoding": {"x": {"field": "fraction", "type": "quantitative"}, "y": {"field": "absorbance", "type": "quantitative"}}},
          {"data": {"name": "ages"}, "transform": [{"filter": "datum.fig == 6 && datum.panel == 2"}], "mark": {"type": "text", "align": "right", "baseline": "middle", "font": "Liberation Sans", "fontWeight": "bold", "fontSize": 9}, "encoding": {"text": {"field": "age"}, "x": {"datum": 43.4}, "y": {"datum": 0.079}}}
        ]},
        {"width": 240, "height": 77, "data": {"name": "curves"}, "layer": [
          {"transform": [{"filter": "datum.fig == 6 && datum.panel == 3 && datum.series == 'OA'"}], "mark": {"type": "line", "interpolate": "monotone", "strokeWidth": 1.5, "color": "#111"}, "encoding": {"x": {"field": "fraction", "type": "quantitative", "scale": {"domain": [10, 45.4], "nice": false, "zero": false}, "axis": {"values": [20, 30, 40], "labels": false, "tickSize": -5, "title": null}}, "y": {"field": "absorbance", "type": "quantitative", "scale": {"domain": [0, 0.1132], "nice": false}, "axis": {"values": [0, 0.05, 0.1], "tickSize": -4, "labelPadding": 8, "labelFontSize": 9, "labelOffset": {"condition": {"test": "datum.value == 0", "value": -1.5}, "value": 1.5}, "labelExpr": "datum.value == 0 ? '0' : (datum.value > 0.09 ? '0.1' : '')", "title": null}}}},
          {"transform": [{"filter": "datum.fig == 6 && datum.panel == 3 && datum.series == 'normal'"}], "mark": {"type": "line", "interpolate": "monotone", "strokeWidth": 1.3, "strokeDash": [1.2, 2.2], "color": "#111"}, "encoding": {"x": {"field": "fraction", "type": "quantitative"}, "y": {"field": "absorbance", "type": "quantitative"}}},
          {"data": {"name": "ages"}, "transform": [{"filter": "datum.fig == 6 && datum.panel == 3"}], "mark": {"type": "text", "align": "right", "baseline": "middle", "font": "Liberation Sans", "fontWeight": "bold", "fontSize": 9}, "encoding": {"text": {"field": "age"}, "x": {"datum": 43.4}, "y": {"datum": 0.0794}}}
        ]},
        {"width": 240, "height": 75, "data": {"name": "curves"}, "layer": [
          {"transform": [{"filter": "datum.fig == 6 && datum.panel == 4 && datum.series == 'OA'"}], "mark": {"type": "line", "interpolate": "monotone", "strokeWidth": 1.5, "color": "#111"}, "encoding": {"x": {"field": "fraction", "type": "quantitative", "scale": {"domain": [10, 45.4], "nice": false, "zero": false}, "axis": {"values": [20, 30, 40], "labels": false, "tickSize": -5, "title": null}}, "y": {"field": "absorbance", "type": "quantitative", "scale": {"domain": [0, 0.1103], "nice": false}, "axis": {"values": [0, 0.05, 0.1], "tickSize": -4, "labelPadding": 8, "labelFontSize": 9, "labelOffset": {"condition": {"test": "datum.value == 0", "value": -1.5}, "value": 1.5}, "labelExpr": "datum.value == 0 ? '0' : (datum.value > 0.09 ? '0.1' : '')", "title": null}}}},
          {"transform": [{"filter": "datum.fig == 6 && datum.panel == 4 && datum.series == 'normal'"}], "mark": {"type": "line", "interpolate": "monotone", "strokeWidth": 1.3, "strokeDash": [1.2, 2.2], "color": "#111"}, "encoding": {"x": {"field": "fraction", "type": "quantitative"}, "y": {"field": "absorbance", "type": "quantitative"}}},
          {"data": {"name": "ages"}, "transform": [{"filter": "datum.fig == 6 && datum.panel == 4"}], "mark": {"type": "text", "align": "right", "baseline": "middle", "font": "Liberation Sans", "fontWeight": "bold", "fontSize": 9}, "encoding": {"text": {"field": "age"}, "x": {"datum": 43.4}, "y": {"datum": 0.081}}}
        ]},
        {"width": 240, "height": 76, "data": {"name": "curves"}, "layer": [
          {"transform": [{"filter": "datum.fig == 6 && datum.panel == 5 && datum.series == 'OA'"}], "mark": {"type": "line", "interpolate": "monotone", "strokeWidth": 1.5, "color": "#111"}, "encoding": {"x": {"field": "fraction", "type": "quantitative", "scale": {"domain": [10, 45.4], "nice": false, "zero": false}, "axis": {"values": [20, 30, 40], "labels": false, "tickSize": -5, "title": null}}, "y": {"field": "absorbance", "type": "quantitative", "scale": {"domain": [0, 0.1134], "nice": false}, "axis": {"values": [0, 0.05, 0.1], "tickSize": -4, "labelPadding": 8, "labelFontSize": 9, "labelOffset": {"condition": {"test": "datum.value == 0", "value": -1.5}, "value": 1.5}, "labelExpr": "datum.value == 0 ? '0' : (datum.value > 0.09 ? '0.1' : '')", "title": "Carbazole absorbance", "titleX": -31, "titleY": 9, "titleAngle": -90, "titleAlign": "center", "titleBaseline": "middle"}}}},
          {"transform": [{"filter": "datum.fig == 6 && datum.panel == 5 && datum.series == 'normal'"}], "mark": {"type": "line", "interpolate": "monotone", "strokeWidth": 1.3, "strokeDash": [1.2, 2.2], "color": "#111"}, "encoding": {"x": {"field": "fraction", "type": "quantitative"}, "y": {"field": "absorbance", "type": "quantitative"}}},
          {"data": {"name": "ages"}, "transform": [{"filter": "datum.fig == 6 && datum.panel == 5"}], "mark": {"type": "text", "align": "right", "baseline": "middle", "font": "Liberation Sans", "fontWeight": "bold", "fontSize": 9}, "encoding": {"text": {"field": "age"}, "x": {"datum": 43.4}, "y": {"datum": 0.0836}}}
        ]},
        {"width": 240, "height": 75, "data": {"name": "curves"}, "layer": [
          {"transform": [{"filter": "datum.fig == 6 && datum.panel == 6 && datum.series == 'OA'"}], "mark": {"type": "line", "interpolate": "monotone", "strokeWidth": 1.5, "color": "#111"}, "encoding": {"x": {"field": "fraction", "type": "quantitative", "scale": {"domain": [10, 45.4], "nice": false, "zero": false}, "axis": {"values": [20, 30, 40], "labels": false, "tickSize": -5, "title": null}}, "y": {"field": "absorbance", "type": "quantitative", "scale": {"domain": [0, 0.1136], "nice": false}, "axis": {"values": [0, 0.05, 0.1], "tickSize": -4, "labelPadding": 8, "labelFontSize": 9, "labelOffset": {"condition": {"test": "datum.value == 0", "value": -1.5}, "value": 1.5}, "labelExpr": "datum.value == 0 ? '0' : (datum.value > 0.09 ? '0.1' : '')", "title": null}}}},
          {"transform": [{"filter": "datum.fig == 6 && datum.panel == 6 && datum.series == 'normal'"}], "mark": {"type": "line", "interpolate": "monotone", "strokeWidth": 1.3, "strokeDash": [1.2, 2.2], "color": "#111"}, "encoding": {"x": {"field": "fraction", "type": "quantitative"}, "y": {"field": "absorbance", "type": "quantitative"}}},
          {"data": {"name": "ages"}, "transform": [{"filter": "datum.fig == 6 && datum.panel == 6"}], "mark": {"type": "text", "align": "right", "baseline": "middle", "font": "Liberation Sans", "fontWeight": "bold", "fontSize": 9}, "encoding": {"text": {"field": "age"}, "x": {"datum": 43.4}, "y": {"datum": 0.0833}}}
        ]},
        {"width": 240, "height": 76, "data": {"name": "curves"}, "layer": [
          {"transform": [{"filter": "datum.fig == 6 && datum.panel == 7 && datum.series == 'OA'"}], "mark": {"type": "line", "interpolate": "monotone", "strokeWidth": 1.5, "color": "#111"}, "encoding": {"x": {"field": "fraction", "type": "quantitative", "scale": {"domain": [10, 45.4], "nice": false, "zero": false}, "axis": {"values": [20, 30, 40], "labels": false, "tickSize": -5, "title": null}}, "y": {"field": "absorbance", "type": "quantitative", "scale": {"domain": [0, 0.1134], "nice": false}, "axis": {"values": [0, 0.05, 0.1], "tickSize": -4, "labelPadding": 8, "labelFontSize": 9, "labelOffset": {"condition": {"test": "datum.value == 0", "value": -1.5}, "value": 1.5}, "labelExpr": "datum.value == 0 ? '0' : (datum.value > 0.09 ? '0.1' : '')", "title": null}}}},
          {"transform": [{"filter": "datum.fig == 6 && datum.panel == 7 && datum.series == 'normal'"}], "mark": {"type": "line", "interpolate": "monotone", "strokeWidth": 1.3, "strokeDash": [1.2, 2.2], "color": "#111"}, "encoding": {"x": {"field": "fraction", "type": "quantitative"}, "y": {"field": "absorbance", "type": "quantitative"}}},
          {"data": {"name": "ages"}, "transform": [{"filter": "datum.fig == 6 && datum.panel == 7"}], "mark": {"type": "text", "align": "right", "baseline": "middle", "font": "Liberation Sans", "fontWeight": "bold", "fontSize": 9}, "encoding": {"text": {"field": "age"}, "x": {"datum": 43.4}, "y": {"datum": 0.0836}}}
        ]},
        {"width": 240, "height": 77, "data": {"name": "curves"}, "layer": [
          {"transform": [{"filter": "datum.fig == 6 && datum.panel == 8 && datum.series == 'OA'"}], "mark": {"type": "line", "interpolate": "monotone", "strokeWidth": 1.5, "color": "#111"}, "encoding": {"x": {"field": "fraction", "type": "quantitative", "scale": {"domain": [10, 45.4], "nice": false, "zero": false}, "axis": {"values": [10, 20, 30, 40], "tickSize": -5, "labelPadding": 8, "labelFontSize": 11, "title": "Fraction no.", "titleX": 101, "titleY": 36, "titleAlign": "center", "titleBaseline": "middle"}}, "y": {"field": "absorbance", "type": "quantitative", "scale": {"domain": [0, 0.1283], "nice": false}, "axis": {"values": [0, 0.05, 0.1], "tickSize": -4, "labelPadding": 8, "labelFontSize": 9, "labelOffset": {"condition": {"test": "datum.value == 0", "value": -1.5}, "value": 1.5}, "labelExpr": "datum.value == 0 ? '0' : (datum.value > 0.09 ? '0.1' : '')", "title": null}}}},
          {"data": {"name": "ages"}, "transform": [{"filter": "datum.fig == 6 && datum.panel == 8"}], "mark": {"type": "text", "align": "right", "baseline": "middle", "font": "Liberation Sans", "fontWeight": "bold", "fontSize": 9}, "encoding": {"text": {"field": "age"}, "x": {"datum": 43.4}, "y": {"datum": 0.0933}}},
          {"data": {"name": "arrows"}, "transform": [{"filter": "datum.fig == 6"}], "mark": {"type": "rule", "strokeWidth": 1.2, "color": "#111"}, "encoding": {"x": {"field": "fraction", "type": "quantitative"}, "y": {"datum": -0.006}, "y2": {"datum": -0.035}}},
          {"data": {"name": "arrows"}, "transform": [{"filter": "datum.fig == 6"}], "mark": {"type": "point", "shape": "triangle-up", "filled": true, "size": 40, "color": "#111", "opacity": 1}, "encoding": {"x": {"field": "fraction", "type": "quantitative"}, "y": {"datum": -0.0085}}}
        ]},
        {"width": 240, "height": 170, "data": {"name": "caption6"},
          "encoding": {"y": {"field": "line", "type": "quantitative", "scale": {"domain": [-3.559, 8.941], "reverse": true}, "axis": null}, "text": {"field": "text"}},
          "layer": [
            {"transform": [{"filter": "datum.part == 'label'"}], "mark": {"type": "text", "align": "left", "baseline": "middle", "fontSize": 13.8}, "encoding": {"x": {"value": -64}}},
            {"transform": [{"filter": "datum.part == 'title' && datum.line == 1"}], "mark": {"type": "text", "align": "left", "baseline": "middle", "fontSize": 13.8, "fontStyle": "italic"}, "encoding": {"x": {"value": -19}}},
            {"transform": [{"filter": "datum.part == 'title' && datum.line > 1 && datum.line < 5"}], "mark": {"type": "text", "align": "left", "baseline": "middle", "fontSize": 13.8, "fontStyle": "italic"}, "encoding": {"x": {"value": -64}}},
            {"transform": [{"filter": "datum.part == 'title' && datum.line == 5"}], "mark": {"type": "text", "align": "center", "baseline": "middle", "fontSize": 13.8, "fontStyle": "italic"}, "encoding": {"x": {"value": 101}}},
            {"transform": [{"filter": "datum.part == 'note'"}], "mark": {"type": "text", "align": "left", "baseline": "middle", "fontSize": 13.8}, "encoding": {"x": {"value": -60}}}
          ]
        },
        {"width": 240, "height": 184,
          "layer": [
            {"data": {"name": "body6"}, "transform": [{"filter": "datum.line == 4"}], "mark": {"type": "text", "align": "left", "baseline": "middle", "fontSize": 15.5}, "encoding": {"x": {"value": -47}, "y": {"field": "line", "type": "quantitative", "scale": {"domain": [-2.5625, 8.9375], "reverse": true}, "axis": null}, "text": {"field": "text"}}},
            {"data": {"name": "body6"}, "transform": [{"filter": "datum.line != 4"}], "mark": {"type": "text", "align": "left", "baseline": "middle", "fontSize": 15.5}, "encoding": {"x": {"value": -62}, "y": {"field": "line", "type": "quantitative"}, "text": {"field": "text"}}},
            {"data": {"values": [{"rule": "separator"}]}, "mark": {"type": "rule", "strokeWidth": 1, "color": "#333"}, "encoding": {"x": {"value": -62}, "x2": {"value": 266}, "y": {"datum": -1.25}}}
          ]
        }
      ]
    }
  ]
}
